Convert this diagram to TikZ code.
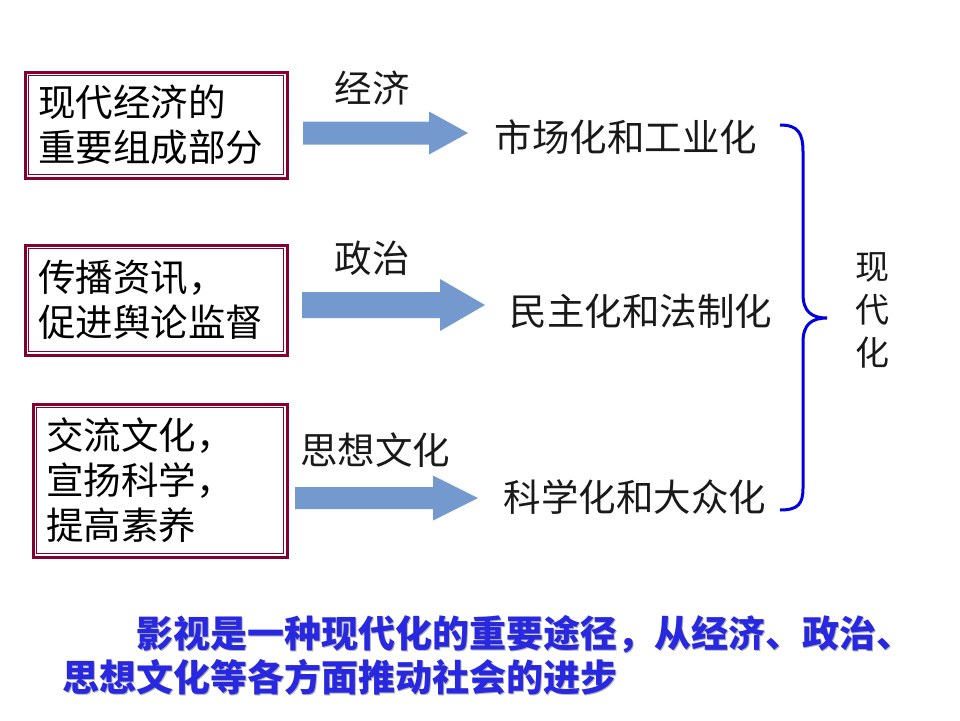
\documentclass[tikz,border=0pt]{standalone}
\usepackage{fontspec}
\newfontfamily\cjk{Noto Sans CJK SC}
\usetikzlibrary{positioning}
\definecolor{boxred}{RGB}{132,0,48}
\definecolor{arrowblue}{RGB}{115,153,206}
\definecolor{bracblue}{RGB}{0,0,225}
\definecolor{notblue}{RGB}{40,40,225}

\begin{document}
\begin{tikzpicture}[
    x=1pt, y=-1pt,
    cell/.style={draw=boxred, line width=3pt, fill=white, inner xsep=13pt, inner ysep=0pt,
        align=left, font=\cjk\fontsize{37.5}{45}\selectfont},
    lbl/.style={font=\cjk\fontsize{37.5}{44}\selectfont, text=black!90, inner sep=0pt},
    note/.style={font=\cjk\bfseries\fontsize{37}{44}\selectfont, align=left, inner sep=0pt, anchor=west}
]
    \useasboundingbox (0,0) rectangle (960,720);

    \node[cell, minimum width=262pt, minimum height=106pt, text width=236pt] (b1) at (156,125)
        {现代经济的\\重要组成部分};
    \node[cell, minimum width=262pt, minimum height=110pt, text width=236pt] (b2) at (156,300)
        {传播资讯，\\促进舆论监督};
    \node[cell, minimum width=254pt, minimum height=153pt, text width=228pt, inner xsep=12pt] (b3) at (160,480.5)
        {交流文化，\\宣扬科学，\\提高素养};

    \foreach \b in {b1, b2, b3} {
        \draw[boxred, line width=1.2pt] ([shift={(5,5)}]\b.north west) rectangle ([shift={(-5,-5)}]\b.south east);
    }

    \foreach \xa/\xb/\xc/\yc/\s/\h in {303/429/468/133/11.5/21.5, 302/440/485/305/13/26, 295/433/478/498/11/22.5} {
        \fill[arrowblue] (\xa,\yc-\s) -- (\xb,\yc-\s) -- (\xb,\yc-\h) -- (\xc,\yc)
            -- (\xb,\yc+\h) -- (\xb,\yc+\s) -- (\xa,\yc+\s) -- cycle;
    }

    \node[lbl] (k1) at (372,88) {经济};
    \node[lbl] (k2) at (372,258) {政治};
    \node[lbl] (k3) at (375,450) {思想文化};

    \node[lbl] (r1) at (626,137) {市场化和工业化};
    \node[lbl] (r2) at (641,311) {民主化和法制化};
    \node[lbl] (r3) at (635,497) {科学化和大众化};

    \draw[bracblue, line width=3pt]
        (780,125) .. controls (798,125) and (803,133) .. (803,152) -- (803,294)
        .. controls (803,312) and (812,318) .. (827,318)
        .. controls (812,318) and (803,324) .. (803,342) -- (803,488)
        .. controls (803,504) and (798,510) .. (780,510);

    \node[lbl, font=\cjk\fontsize{34}{43}\selectfont, align=center] (m) at (872,310) {现\\代\\化};

    \node[note, text=gray!60] (s) at (63.5,656.5) {\hspace{2em}影视是一种现代化的重要途径，从经济、政治、\\思想文化等各方面推动社会的进步};
    \node[note, text=notblue] (t) at (62,655) {\hspace{2em}影视是一种现代化的重要途径，从经济、政治、\\思想文化等各方面推动社会的进步};
\end{tikzpicture}
\end{document}
